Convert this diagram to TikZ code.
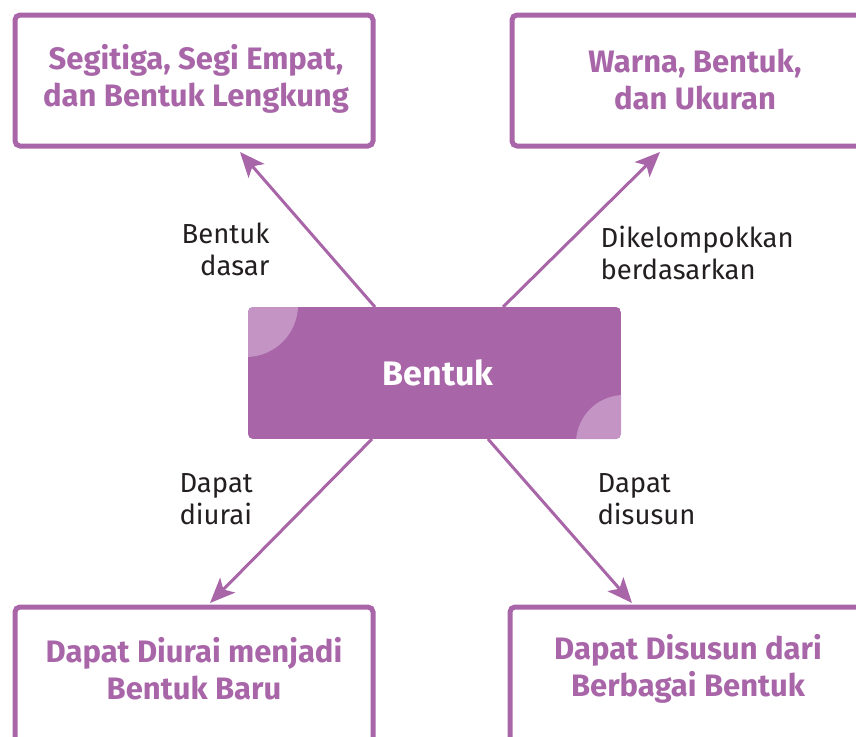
\documentclass[tikz,border=0pt]{standalone}
\usepackage{fontspec}
\setmainfont{Fira Sans}
\usetikzlibrary{arrows.meta}
\definecolor{pur}{HTML}{A866A9}
\definecolor{lpur}{HTML}{C394C4}
\definecolor{ink}{HTML}{231F20}
\tikzset{
  outbox/.style={draw=pur, line width=5pt, rounded corners=5pt, fill=white},
  boxtext/.style={text=pur, font=\fontsize{31}{37}\selectfont\bfseries, align=center},
  lbl/.style={text=ink, font=\fontsize{27.5}{32}\selectfont},
  conn/.style={draw=pur, line width=3pt, -{Stealth[length=25pt,width=21pt,inset=6pt]}}
}
\begin{document}
\begin{tikzpicture}[x=1pt,y=-1pt]
\useasboundingbox (0,0) rectangle (856,736);
\clip (0,0) rectangle (856,736);
% outer boxes
\draw[outbox] (15,15) rectangle (373,146);
\draw[outbox] (512,15) rectangle (885,146);
\draw[outbox] (15,607) rectangle (373,760);
\draw[outbox] (510,607) rectangle (880,760);
\node[boxtext] (tl) at (196,79) {Segitiga, Segi Empat,\\dan Bentuk Lengkung};
\node[boxtext] (tr) at (695,79) {Warna, Bentuk,\\dan Ukuran};
\node[boxtext] (bl) at (194,669) {Dapat Diurai menjadi\\Bentuk Baru};
\node[boxtext] (br) at (688,669) {Dapat Disusun dari\\Berbagai Bentuk};
% central box
\begin{scope}
\clip[rounded corners=5pt] (248,307) rectangle (621,439);
\fill[pur] (248,307) rectangle (621,439);
\fill[lpur] (246,305) circle[radius=52];
\fill[lpur] (624,443) circle[radius=48];
\end{scope}
\node[text=white, font=\fontsize{34}{40}\selectfont\bfseries] (c) at (438,373) {Bentuk};
% arrow ends
\coordinate (s1) at (375,307);
\coordinate (s2) at (503,307);
\coordinate (s3) at (372,439);
\coordinate (s4) at (488,439);
\coordinate (e1) at (240,152);
\coordinate (e2) at (660,152);
\coordinate (e3) at (210,603);
\coordinate (e4) at (632,603);
\draw[conn] (s1) -- (e1);
\draw[conn] (s2) -- (e2);
\draw[conn] (s3) -- (e3);
\draw[conn] (s4) -- (e4);
% labels
\node[lbl, align=right, anchor=east] (l1) at (273,249) {Bentuk\\dasar};
\node[lbl, align=left, anchor=west] (l2) at (597,253) {Dikelompokkan\\berdasarkan};
\node[lbl, align=left, anchor=west] (l3) at (176,499) {Dapat\\diurai};
\node[lbl, align=left, anchor=west] (l4) at (594,499) {Dapat\\disusun};
\end{tikzpicture}
\end{document}
